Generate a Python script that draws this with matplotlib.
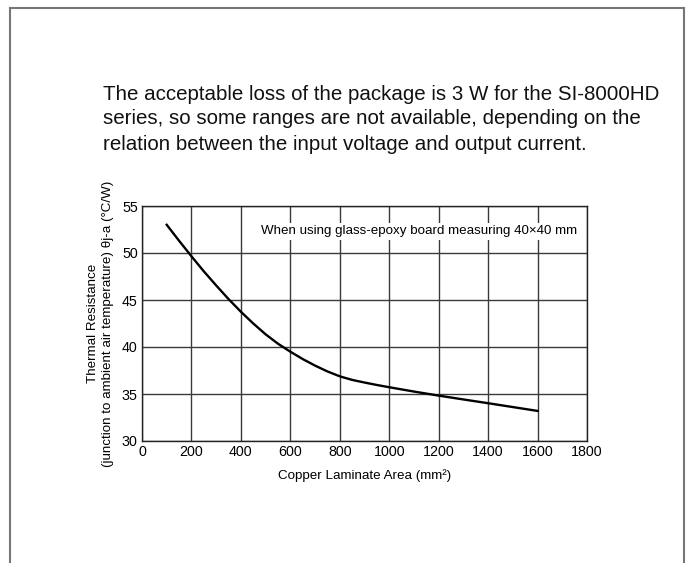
import matplotlib
matplotlib.use("Agg")
import matplotlib.pyplot as plt
from matplotlib.lines import Line2D

plt.rcParams['font.family'] = ['Liberation Sans', 'DejaVu Sans']

# copper area (mm2) vs thermal resistance (deg C/W)
area = [100, 150, 200, 250, 300, 350, 400, 450, 500, 550, 600, 650, 700, 750,
        800, 850, 900, 950, 1000, 1100, 1200, 1300, 1400, 1500, 1600]
theta = [53.0, 51.3, 49.65, 48.05, 46.55, 45.1, 43.75, 42.5, 41.35, 40.35, 39.5, 38.72, 38.02, 37.4,
         36.88, 36.5, 36.22, 35.96, 35.72, 35.26, 34.83, 34.42, 34.02, 33.61, 33.2]

xticks = [0, 200, 400, 600, 800, 1000, 1200, 1400, 1600, 1800]
yticks = [30, 35, 40, 45, 50, 55]

intro = ("The acceptable loss of the package is 3 W for the SI-8000HD\n"
         "series, so some ranges are not available, depending on the\n"
         "relation between the input voltage and output current.")

fig = plt.figure(figsize=(6.98, 5.63), dpi=100)

# page frame (open at the bottom)
W, H = 698, 563
fx = lambda p: p / W
fy = lambda p: 1 - p / H
for xs, ys in [([10, 10], [8, 563]), ([684, 684], [8, 563]), ([10, 684], [8, 8])]:
    fig.add_artist(Line2D([fx(v) for v in xs], [fy(v) for v in ys], color='#777777', lw=1.5))

fig.text(fx(103), fy(119), intro, fontsize=14.8, va='center', ha='left',
         linespacing=1.4, color='#111111')

ax = fig.add_axes([142 / W, 1 - 441 / H, 445 / W, 235 / H])
ax.set_xlim(0, 1800)
ax.set_ylim(30, 55)
ax.set_xticks(xticks)
ax.set_yticks(yticks)
ax.tick_params(length=0, labelsize=10.3, pad=3)
ax.grid(True, color='#3a3a3a', lw=1.0)
ax.set_axisbelow(True)
for s in ax.spines.values():
    s.set_color('#222222')
    s.set_linewidth(1.0)

ax.plot(area, theta, color='black', lw=1.7, zorder=3, solid_joinstyle='round')

ax.text(1760, 52.3, "When using glass-epoxy board measuring 40\u00d740 mm", fontsize=9.6,
        ha='right', va='center', zorder=4,
        bbox=dict(facecolor='white', edgecolor='none', pad=1.5))

ax.set_xlabel("Copper Laminate Area (mm\u00b2)", fontsize=9.6, labelpad=7)
ax.set_ylabel("Thermal Resistance\n(junction to ambient air temperature) \u03b8j-a (\u00b0C/W)",
              fontsize=9.6, labelpad=6, linespacing=1.25)

fig.savefig("out.png", dpi=100)
